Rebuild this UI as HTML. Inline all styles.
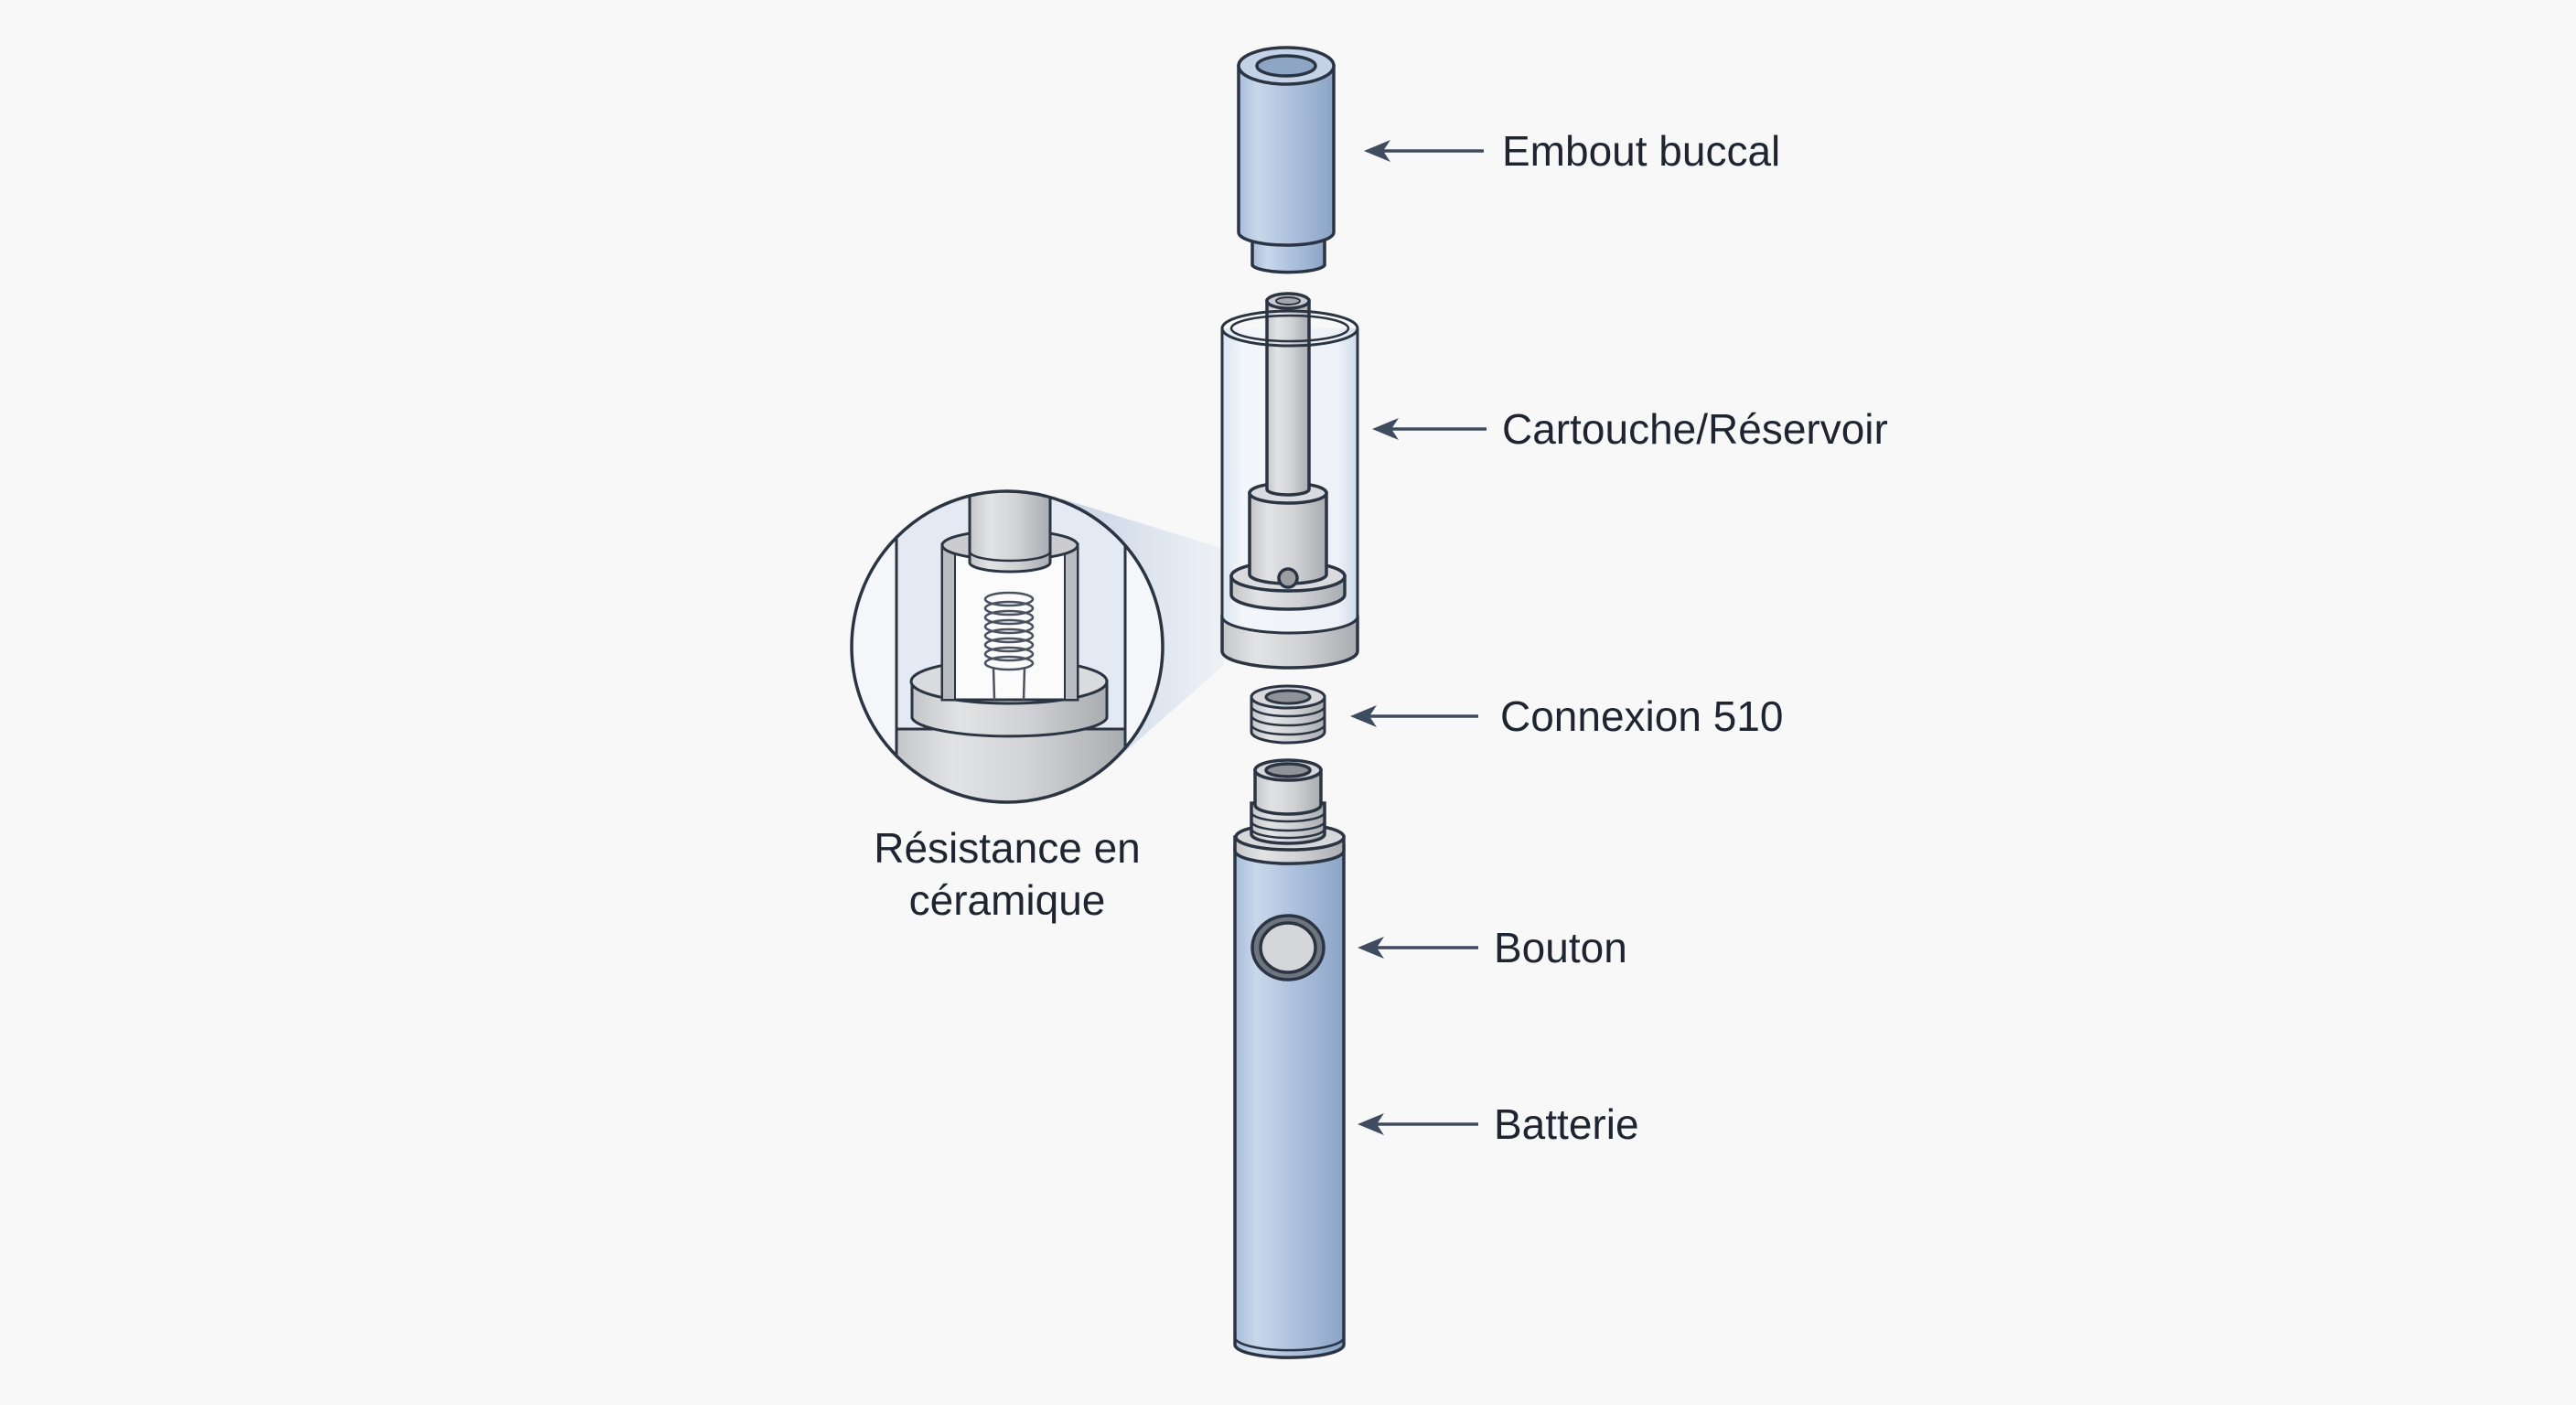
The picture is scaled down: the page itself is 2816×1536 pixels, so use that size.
<!DOCTYPE html>
<html><head><meta charset="utf-8"><style>
html,body{margin:0;padding:0;background:#f8f8f8;}
svg{display:block;}
text{font-family:"Liberation Sans",sans-serif;fill:#1e2430;}
</style></head><body>
<svg width="2816" height="1536" viewBox="0 0 2816 1536" xmlns="http://www.w3.org/2000/svg">
<defs>
<linearGradient id="blue" x1="0" x2="1" y1="0" y2="0">
<stop offset="0" stop-color="#a9bedb"/><stop offset="0.2" stop-color="#c9d7ea"/><stop offset="0.5" stop-color="#b0c4df"/><stop offset="0.75" stop-color="#9fb5d4"/><stop offset="1" stop-color="#8aa3c6"/></linearGradient>
<linearGradient id="gray" x1="0" x2="1" y1="0" y2="0">
<stop offset="0" stop-color="#c4c6c9"/><stop offset="0.25" stop-color="#e2e3e5"/><stop offset="0.6" stop-color="#cfd1d4"/><stop offset="1" stop-color="#a9acb0"/></linearGradient>
<linearGradient id="glass" x1="0" x2="1"><stop offset="0" stop-color="#dbe5f1"/><stop offset="0.15" stop-color="#f3f6fa"/><stop offset="0.85" stop-color="#eef2f8"/><stop offset="1" stop-color="#cfdcec"/></linearGradient>
<linearGradient id="cone" x1="0" x2="1"><stop offset="0" stop-color="#c3d0e3"/><stop offset="1" stop-color="#e6ecf4" stop-opacity="0.6"/></linearGradient>
<clipPath id="cc"><circle cx="1101" cy="707" r="170"/></clipPath>
</defs>
<rect width="2816" height="1536" fill="#f8f8f8"/>

<polygon points="1160,545 1338,600 1338,727 1230,822" fill="url(#cone)"/>

<!-- Mouthpiece -->
<g stroke="#2b3442" stroke-width="3.5">
<path d="M1369,262 L1369,290 A40,9 0 0 0 1448,290 L1448,262Z" fill="url(#blue)"/>
<path d="M1354,72 L1354,254 A52,14 0 0 0 1458,254 L1458,72Z" fill="url(#blue)"/>
<ellipse cx="1406" cy="72" rx="52" ry="20" fill="#c4d2e6"/>
<ellipse cx="1406" cy="72" rx="32" ry="11" fill="#8ea6c6"/>
</g>

<!-- Cartridge -->
<g stroke="#2b3442" stroke-width="3.5">
<path d="M1336,674 L1336,712 A74,18 0 0 0 1484,712 L1484,674Z" fill="url(#gray)"/>
<path d="M1336,359 L1336,674 A74,18 0 0 0 1484,674 L1484,359" fill="url(#glass)" stroke-width="3"/>
<path d="M1346,630 L1346,650 A62,16 0 0 0 1470,650 L1470,630Z" fill="url(#gray)"/>
<ellipse cx="1408" cy="630" rx="62" ry="16" fill="#d9dbde"/>
<path d="M1366,539 L1366,628 A42,10 0 0 0 1450,628 L1450,539Z" fill="url(#gray)"/>
<ellipse cx="1408" cy="539" rx="42" ry="11" fill="#d9dbde"/>
<circle cx="1408" cy="632" r="10" fill="#9a9da2"/>
<path d="M1385,329 L1385,535 A23,6 0 0 0 1431,535 L1431,329Z" fill="url(#gray)"/>
<ellipse cx="1408" cy="329" rx="23" ry="8" fill="#c9cbce"/>
<ellipse cx="1408" cy="329" rx="13" ry="4" fill="#a3a6aa" stroke-width="2"/>
<ellipse cx="1410" cy="359" rx="74" ry="19" fill="none" stroke-width="3"/>
<ellipse cx="1410" cy="359" rx="64" ry="14" fill="none" stroke-width="2.5"/>
</g>

<!-- Connector 510 -->
<g stroke="#2b3442" stroke-width="3">
<path d="M1368,762 L1368,800 A40,12 0 0 0 1448,800 L1448,762Z" fill="url(#gray)"/>
<path d="M1368,772 A40,11 0 0 0 1448,772 M1368,782 A40,11 0 0 0 1448,782 M1368,792 A40,11 0 0 0 1448,792" fill="none" stroke-width="2.5"/>
<ellipse cx="1408" cy="762" rx="40" ry="12" fill="#d6d8db"/>
<ellipse cx="1408" cy="762" rx="24" ry="7" fill="#8f9297"/>
</g>

<!-- Battery -->
<g stroke="#2b3442" stroke-width="3.5">
<path d="M1350,925 L1350,1470 A59,14 0 0 0 1469,1470 L1469,925Z" fill="url(#blue)"/>
<path d="M1350,1462 A59,14 0 0 0 1469,1462" fill="none" stroke-width="2.5"/>
<path d="M1350,915 L1350,930 A59,14 0 0 0 1469,930 L1469,915Z" fill="url(#gray)"/>
<ellipse cx="1410" cy="915" rx="59" ry="14" fill="#d6d8db"/>
<path d="M1368,878 L1368,912 A40,10 0 0 0 1448,912 L1448,878Z" fill="url(#gray)"/>
<path d="M1368,888 A40,10 0 0 0 1448,888 M1368,898 A40,10 0 0 0 1448,898 M1368,906 A40,10 0 0 0 1448,906" fill="none" stroke-width="2.5"/>
<path d="M1372,842 L1372,880 A36,10 0 0 0 1444,880 L1444,842Z" fill="url(#gray)"/>
<ellipse cx="1408" cy="842" rx="36" ry="11" fill="#d6d8db"/>
<ellipse cx="1408" cy="842" rx="24" ry="7" fill="#8f9297"/>
<ellipse cx="1408" cy="1036" rx="39" ry="35" fill="#6f757e"/>
<ellipse cx="1408" cy="1036" rx="30" ry="27" fill="#d4d6d9"/>
</g>

<!-- Magnified circle -->
<g clip-path="url(#cc)">
<rect x="930" y="530" width="350" height="360" fill="#f4f6f9"/>
<rect x="980" y="530" width="250" height="360" fill="#e3eaf3" stroke="#2b3442" stroke-width="3"/>
<rect x="980" y="797" width="250" height="100" fill="url(#gray)" stroke="#2b3442" stroke-width="3"/>
<path d="M997,745 L997,785 A107,22 0 0 0 1210,785 L1210,745Z" fill="url(#gray)" stroke="#2b3442" stroke-width="3"/>
<ellipse cx="1103" cy="745" rx="107" ry="24" fill="#d9dbde" stroke="#2b3442" stroke-width="3"/>
<path d="M1030,595 L1030,765 L1178,765 L1178,595Z" fill="#fbfbfc" stroke="#2b3442" stroke-width="3"/>
<rect x="1030" y="595" width="14" height="170" fill="#b9bcc0" stroke="#2b3442" stroke-width="2"/>
<rect x="1164" y="595" width="14" height="170" fill="#b9bcc0" stroke="#2b3442" stroke-width="2"/>
<ellipse cx="1104" cy="596" rx="74" ry="16" fill="#c9cbce" stroke="#2b3442" stroke-width="3"/>
<path d="M1060,530 L1060,615 A44,10 0 0 0 1148,615 L1148,530Z" fill="url(#gray)" stroke="#2b3442" stroke-width="3"/>
<path d="M1060,603 A44,10 0 0 0 1148,603" fill="none" stroke="#2b3442" stroke-width="2.5"/>
<g fill="none" stroke="#4a5160" stroke-width="2.5">
<ellipse cx="1103" cy="655" rx="26" ry="7"/><ellipse cx="1103" cy="665" rx="26" ry="7"/><ellipse cx="1103" cy="675" rx="26" ry="7"/><ellipse cx="1103" cy="685" rx="26" ry="7"/><ellipse cx="1103" cy="695" rx="26" ry="7"/><ellipse cx="1103" cy="705" rx="26" ry="7"/><ellipse cx="1103" cy="715" rx="26" ry="7"/><ellipse cx="1103" cy="725" rx="26" ry="7"/>
<path d="M1086,730 L1087,765 M1120,730 L1119,765"/>
</g>
</g>
<circle cx="1101" cy="707" r="170" fill="none" stroke="#2b3442" stroke-width="3.5"/>

<!-- Arrows -->
<g stroke="#3f4b5e" stroke-width="3.5" fill="none">
<line x1="1622" y1="165" x2="1505" y2="165"/>
<line x1="1625" y1="469" x2="1514" y2="469"/>
<line x1="1616" y1="783" x2="1490" y2="783"/>
<line x1="1616" y1="1036" x2="1498" y2="1036"/>
<line x1="1616" y1="1229" x2="1498" y2="1229"/>
</g>
<g fill="#3f4b5e">
<path d="M1491,165 L1520,153 L1512,165 L1520,177Z"/>
<path d="M1500,469 L1529,457 L1521,469 L1529,481Z"/>
<path d="M1476,783 L1505,771 L1497,783 L1505,795Z"/>
<path d="M1484,1036 L1513,1024 L1505,1036 L1513,1048Z"/>
<path d="M1484,1229 L1513,1217 L1505,1229 L1513,1241Z"/>
</g>

<!-- Labels -->
<g font-size="46">
<text x="1642" y="181">Embout buccal</text>
<text x="1642" y="485">Cartouche/Réservoir</text>
<text x="1640" y="799">Connexion 510</text>
<text x="1633" y="1052">Bouton</text>
<text x="1633" y="1245">Batterie</text>
<text x="1101" y="943" text-anchor="middle">Résistance en</text>
<text x="1101" y="1000" text-anchor="middle">céramique</text>
</g>
</svg>
</body></html>
